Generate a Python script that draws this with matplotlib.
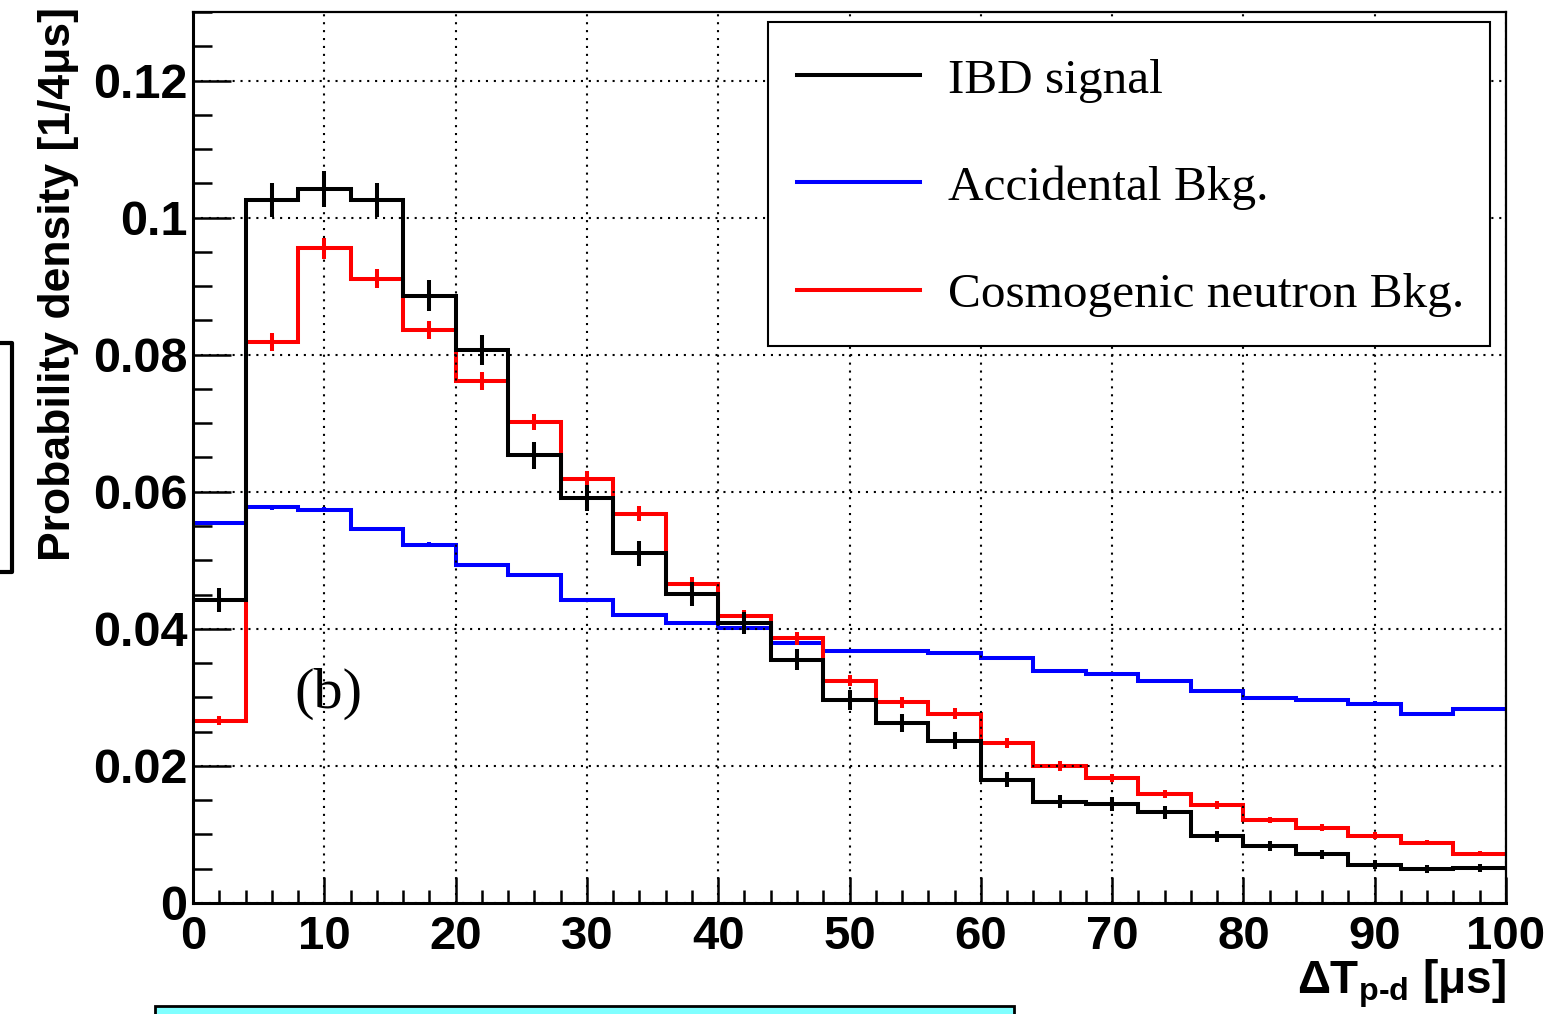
import numpy as np
import matplotlib
matplotlib.use('Agg')
from matplotlib import pyplot as plt
from matplotlib.lines import Line2D
from matplotlib.patches import Rectangle
from matplotlib.ticker import MultipleLocator

# 25 bins of 4 us from 0 to 100
bin_edges = np.arange(0, 101, 4)

ibd_signal = [0.0442, 0.1026, 0.1042, 0.1026, 0.0886, 0.0807, 0.0653, 0.0591, 0.0510,
              0.0451, 0.0409, 0.0355, 0.0296, 0.0262, 0.0237, 0.0180, 0.0148, 0.0144,
              0.0132, 0.0097, 0.0083, 0.0071, 0.0056, 0.0049, 0.0051]
ibd_err = [0.0017, 0.0025, 0.0026, 0.0025, 0.0023, 0.0022, 0.0020, 0.0019, 0.0018,
           0.0017, 0.0016, 0.0015, 0.0014, 0.0013, 0.0012, 0.0011, 0.0010, 0.0010,
           0.0009, 0.0008, 0.0007, 0.0007, 0.0006, 0.0006, 0.0006]

accidental = [0.0554, 0.0577, 0.0574, 0.0545, 0.0523, 0.0493, 0.0479, 0.0442, 0.0420,
              0.0408, 0.0401, 0.0380, 0.0368, 0.0368, 0.0365, 0.0357, 0.0338, 0.0334,
              0.0324, 0.0309, 0.0299, 0.0296, 0.0291, 0.0276, 0.0283]
accidental_err = [0.0003] * 25

cosmo_neutron = [0.0266, 0.0819, 0.0955, 0.0911, 0.0836, 0.0762, 0.0702, 0.0618, 0.0568,
                 0.0466, 0.0419, 0.0386, 0.0324, 0.0293, 0.0276, 0.0233, 0.0200, 0.0182,
                 0.0159, 0.0143, 0.0121, 0.0110, 0.0098, 0.0088, 0.0072]
cosmo_err = [0.0007, 0.0013, 0.0015, 0.0014, 0.0013, 0.0013, 0.0012, 0.0012, 0.0011,
             0.0010, 0.0009, 0.0009, 0.0008, 0.0008, 0.0008, 0.0007, 0.0007, 0.0006,
             0.0006, 0.0006, 0.0005, 0.0005, 0.0005, 0.0004, 0.0004]

ytick_vals = [0, 0.02, 0.04, 0.06, 0.08, 0.1, 0.12]
ytick_labels = ['0', '0.02', '0.04', '0.06', '0.08', '0.1', '0.12']
xtick_vals = [0, 10, 20, 30, 40, 50, 60, 70, 80, 90, 100]

plt.rcParams['font.family'] = 'Liberation Sans'
plt.rcParams['font.weight'] = 'bold'
plt.rcParams['mathtext.fontset'] = 'custom'
plt.rcParams['mathtext.rm'] = 'Liberation Sans:bold'
plt.rcParams['mathtext.it'] = 'Liberation Sans:bold'
plt.rcParams['mathtext.bf'] = 'Liberation Sans:bold'

fig = plt.figure(figsize=(15.47, 10.14), dpi=100)
ax = fig.add_axes([0.1248, 0.1095, 0.8487, 0.8787])

centers = (bin_edges[:-1] + bin_edges[1:]) / 2
lw = 2.9
series = [
    (accidental, accidental_err, 'blue', 'Accidental Bkg.'),
    (cosmo_neutron, cosmo_err, 'red', 'Cosmogenic neutron Bkg.'),
    (ibd_signal, ibd_err, 'black', 'IBD signal'),
]
handles = {}
for vals, err, col, name in series:
    ax.stairs(vals, bin_edges, baseline=None, color=col, lw=lw)
    ax.errorbar(centers, vals, yerr=err, fmt='none', ecolor=col, elinewidth=lw, capsize=0)
    handles[name] = Line2D([], [], color=col, lw=lw)

ax.set_xlim(0, 100)
ax.set_ylim(0, 0.13)
ax.set_xticks(xtick_vals)
ax.set_yticks(ytick_vals, ytick_labels)
ax.xaxis.set_minor_locator(MultipleLocator(2))
ax.yaxis.set_minor_locator(MultipleLocator(0.005))

ax.tick_params(axis='both', which='both', direction='in', width=1.8)
ax.tick_params(axis='y', which='major', length=27, pad=4, labelsize=35)
ax.tick_params(axis='y', which='minor', length=13.5)
ax.tick_params(axis='x', which='major', length=18.5, pad=9, labelsize=34)
ax.tick_params(axis='x', which='minor', length=9.5)

ax.spines['left'].set_linewidth(2.2)
ax.spines['bottom'].set_linewidth(2.2)
ax.spines['top'].set_linewidth(1.6)
ax.spines['right'].set_linewidth(1.6)

ax.grid(True, which='major', color='black', linestyle=(0, (1, 2.8)), lw=1.5)

# legend entries without frame, frame drawn as a box in axes coordinates
order = ['IBD signal', 'Accidental Bkg.', 'Cosmogenic neutron Bkg.']
leg = ax.legend([handles[n] for n in order], order, loc='upper left',
                bbox_to_anchor=(0.4395, 0.9787), borderaxespad=0,
                prop={'family': 'Liberation Serif', 'weight': 'normal', 'size': 35.5},
                handlelength=2.5, handletextpad=0.55, borderpad=0.55,
                labelspacing=1.27, frameon=False)
ax.add_patch(Rectangle((0.438, 0.625), 0.550, 0.364, transform=ax.transAxes,
                       facecolor='white', edgecolor='black', lw=1.5, zorder=4.5))

ax.text(0.103, 0.235, '(b)', transform=ax.transAxes, ha='center', va='center',
        family='Liberation Serif', weight='normal', fontsize=42)

fig.text(59 / 1547, 1 - 7 / 1014, 'Probability density [1/4μs]', rotation=90,
         ha='center', va='top', fontsize=32, fontweight='bold')
fig.text(1506 / 1547, 1 - 993 / 1014, r'ΔT$_{\text{p-d}}$ [μs]', ha='right',
         va='baseline', fontsize=33, fontweight='bold')

# pieces of neighbouring panels cut off at the edges
fig.add_artist(Line2D([0, 12 / 1547, 12 / 1547, 0],
                      [1 - 343 / 1014, 1 - 343 / 1014, 1 - 572 / 1014, 1 - 572 / 1014],
                      color='black', lw=3, transform=fig.transFigure))
fig.add_artist(Rectangle((155 / 1547, -0.02), (1014 - 155) / 1547, 0.02 + 8 / 1014,
                         facecolor='#80ffff', edgecolor='black', lw=2,
                         transform=fig.transFigure))

fig.savefig('out.png', dpi=100)
